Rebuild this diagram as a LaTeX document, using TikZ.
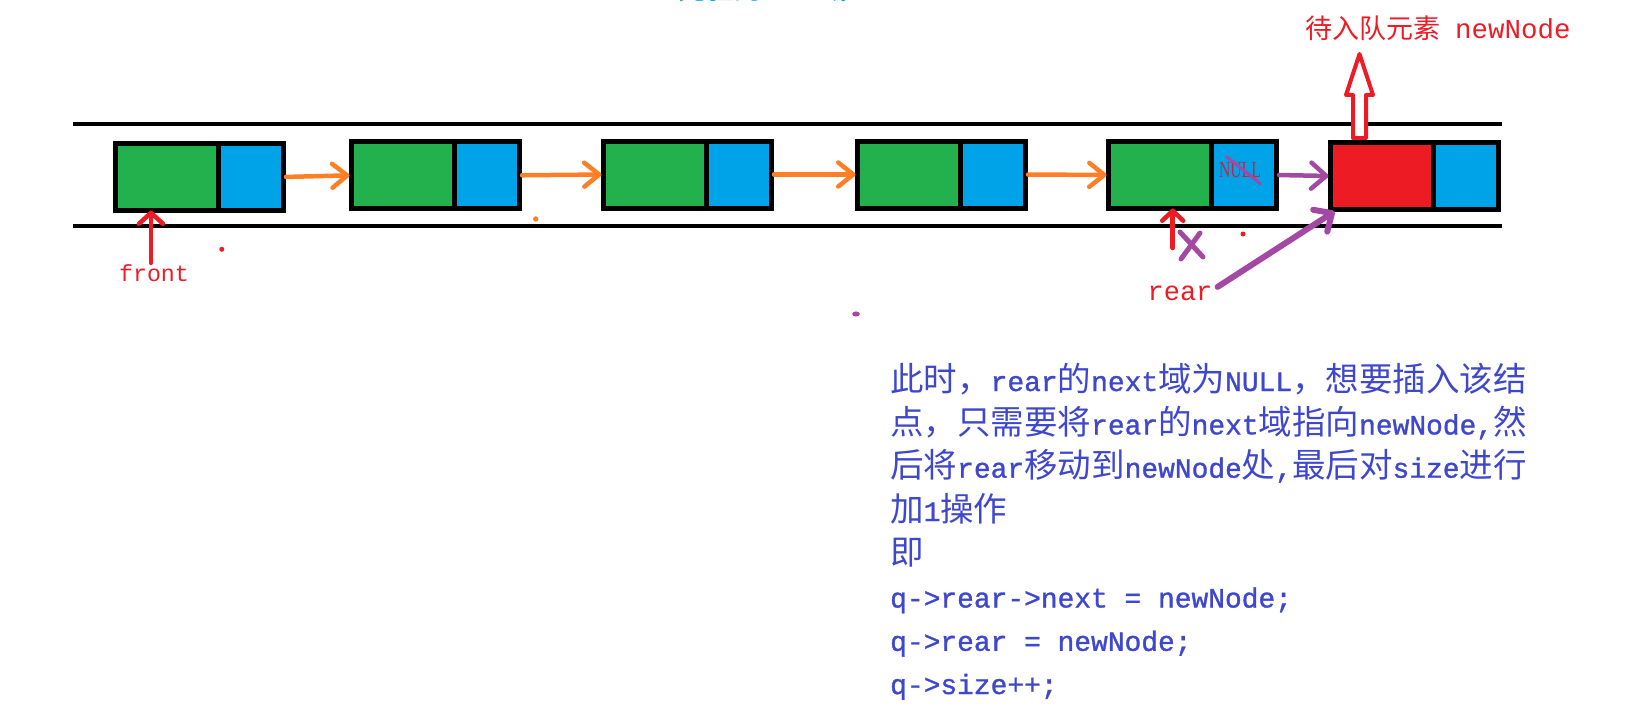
\documentclass[tikz,border=0pt]{standalone}
\usepackage{fontspec}
\setmainfont{Noto Sans CJK SC}
\newfontfamily\cjk{Noto Sans CJK SC}
\newfontfamily\mono{Liberation Mono}
\newfontfamily\monob[FakeBold=1.2]{Liberation Mono}
\newfontfamily\ser{Liberation Serif}
\usetikzlibrary{arrows.meta}
\definecolor{pgreen}{RGB}{34,177,76}
\definecolor{pblue}{RGB}{0,162,232}
\definecolor{pred}{RGB}{237,28,36}
\definecolor{porange}{RGB}{255,127,39}
\definecolor{ppurple}{RGB}{163,73,164}
\definecolor{pindigo}{RGB}{63,72,204}
\definecolor{nullred}{RGB}{190,40,70}
\newcommand\lat[1]{{\monob\fontsize{27.9}{40}\selectfont #1}}
\tikzset{
  cell/.style={draw=black, line width=5pt, inner sep=0pt, outer sep=0pt, minimum height=67pt},
  greenpart/.style={cell, fill=pgreen, minimum width=103pt, anchor=west},
  redpart/.style={cell, fill=pred, minimum width=103pt, anchor=west},
  bluepart/.style={cell, fill=pblue, minimum width=65pt, anchor=west},
  rail/.style={line width=4.7pt, black},
  oarr/.style={draw=porange, line width=4.5pt, line cap=round, shorten <=2.5pt, shorten >=2pt,
    -{Straight Barb[length=15pt,width=24pt,round]}},
  parr/.style={draw=ppurple, line width=4.5pt, line cap=round, shorten <=2.5pt, shorten >=2pt,
    -{Straight Barb[length=15pt,width=26pt,round]}},
  rarr/.style={draw=pred, line width=4.5pt, line cap=round,
    -{Straight Barb[length=11pt,width=24pt,round]}},
  tline/.style={anchor=base west, text=pindigo, inner sep=0pt, font=\cjk\fontsize{33.5}{40}\selectfont},
}
\begin{document}
\begin{tikzpicture}[x=1pt,y=-1pt]
\useasboundingbox (0,0) rectangle (1650,725);
% top clipped text
\node[overlay, anchor=base west, inner sep=0pt, text=pblue, font=\cjk\fontsize{28}{30}\selectfont] (toptxt) at (678,0) {先驱的{\mono\fontsize{24}{30}\selectfont next}域};
% rails
\draw[rail] (73,124) -- (1502,124);
\draw[rail] (73,226) -- (1502,226);
% hollow arrow
\draw[pred, line width=4pt, fill=white, line join=round]
  (1353,138) -- (1353,95) -- (1346,95) -- (1359.5,54) -- (1373,95) -- (1366,95) -- (1366,138) -- cycle;
% nodes
\node[greenpart] (g1) at (115.5,177) {};
\node[bluepart] (b1) at (g1.east) {};
\node[greenpart] (g2) at (351.5,175.3) {};
\node[bluepart] (b2) at (g2.east) {};
\node[greenpart] (g3) at (603.5,174.5) {};
\node[bluepart] (b3) at (g3.east) {};
\node[greenpart] (g4) at (857.5,174.5) {};
\node[bluepart] (b4) at (g4.east) {};
\node[greenpart] (g5) at (1108.5,175) {};
\node[bluepart] (b5) at (g5.east) {};
\node[redpart] (g6) at (1330.5,176) {};
\node[bluepart] (b6) at (g6.east) {};
% NULL
\node[inner sep=0pt, text=nullred, font=\ser\fontsize{23}{23}\selectfont] (null) at ([shift={(-4,-5)}]b5.center) {\scalebox{0.68}[1]{NULL}};
\draw[ppurple, line width=3pt, line cap=round] (1226.7,156.7) -- (1260.7,184);
% links
\draw[oarr] (b1.east) -- (g2.west);
\draw[oarr] (b2.east) -- (g3.west);
\draw[oarr] (b3.east) -- (g4.west);
\draw[oarr] (b4.east) -- (g5.west);
\draw[parr] (b5.east) -- (g6.west);
% label top
\node[anchor=base west, inner sep=0pt, text=pred] (lbl) at (1305,39)
  {{\cjk\fontsize{27}{30}\selectfont 待入队元素}\hspace{15pt}{\mono\fontsize{27.5}{30}\selectfont newNode}};
% front
\node[anchor=base, inner sep=2pt, text=pred, font=\mono\fontsize{23.3}{28}\selectfont] (front) at (154,281) {front};
\coordinate (fa) at (151,263);
\draw[rarr] (fa) -- (fa |- g1.south);
% rear
\node[anchor=base, inner sep=2pt, text=pred, font=\mono\fontsize{27}{30}\selectfont] (rear) at (1180,300) {rear};
\coordinate (ra) at (1172.7,248);
\draw[rarr, -{Straight Barb[length=10pt,width=21pt,round]}] (ra) -- (ra |- g5.south);
\draw[ppurple, line width=5pt, line cap=round] (1180,232) -- (1203,257) (1200,233) -- (1181,259);
\draw[draw=ppurple, line width=6pt, line cap=round, -{Straight Barb[length=14pt,width=26pt,round]}]
  ([shift={(3,-6)}]rear.east) -- ([shift={(4,2)}]g6.south west);
% dots
\fill[pred] (221.8,249.3) circle (2.5);
\fill[porange] (535.7,219) circle (2.7);
\fill[pred] (1243,234) circle (2.5);
\fill[ppurple] (856,314) ellipse (3.8 and 2.6);
% explanation text
\node[tline] (t1) at (890,391) {此时，\lat{rear}的\lat{next}域为\lat{NULL}，想要插入该结};
\node[tline] (t2) at (890,434.4) {点，只需要将\lat{rear}的\lat{next}域指向\lat{newNode,}然};
\node[tline] (t3) at (890,477.7) {后将\lat{rear}移动到\lat{newNode}处\lat{,}最后对\lat{size}进行};
\node[tline] (t4) at (890,521) {加\lat{1}操作};
\node[tline] (t5) at (890,564.4) {即};
\node[tline] (t6) at (890,607.5) {\lat{q->rear->next = newNode;}};
\node[tline] (t7) at (890,650.8) {\lat{q->rear = newNode;}};
\node[tline] (t8) at (890,694) {\lat{q->size++;}};
\end{tikzpicture}
\end{document}
